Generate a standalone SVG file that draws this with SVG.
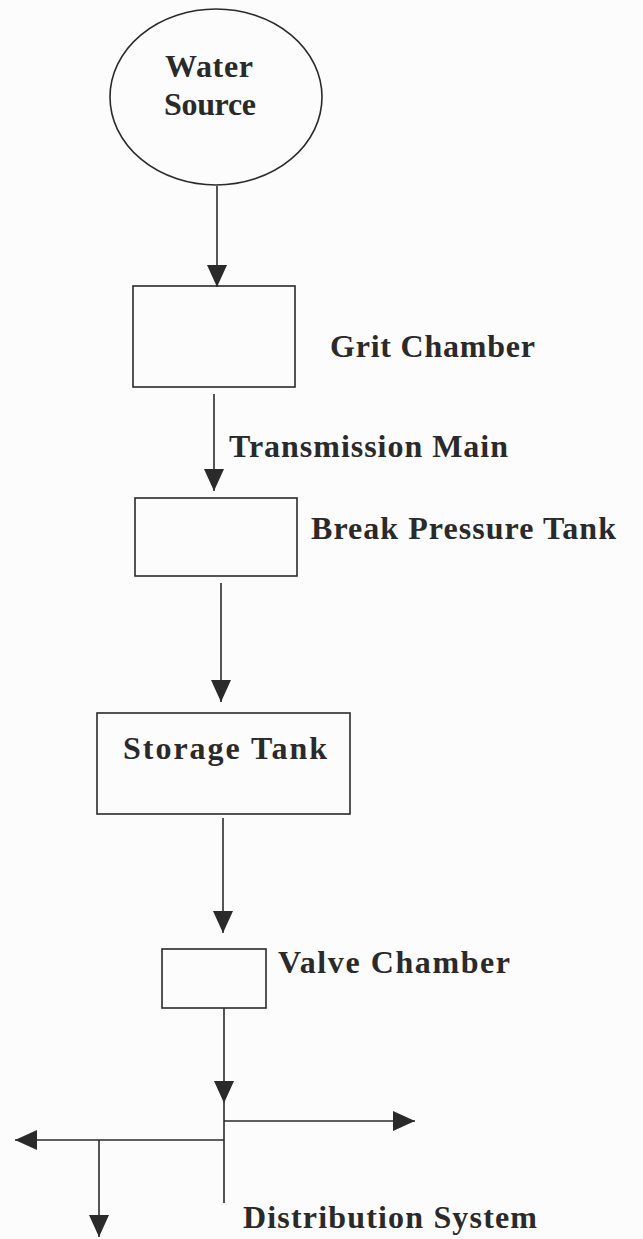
<svg xmlns="http://www.w3.org/2000/svg" width="643" height="1239" viewBox="0 0 643 1239">
<style>
.shape{fill:none;stroke:#2a2a2a;stroke-width:1.6}
.conn{fill:none;stroke:#2a2a2a;stroke-width:1.6}
.lbl{font-family:'Liberation Serif','Times New Roman','DejaVu Serif',serif;font-weight:700;font-size:32px;fill:#2a2a2a}
</style>
<defs>
<marker id="arr" viewBox="0 0 22 20" refX="22" refY="10" markerWidth="22" markerHeight="20" markerUnits="userSpaceOnUse" orient="auto">
<path d="M0,0 L22,10 L0,20 z" fill="#2a2a2a"/>
</marker>
</defs>
<rect width="643" height="1239" fill="#fcfcfc"/>
<g id="water-source">
<ellipse class="shape" cx="216" cy="97" rx="106" ry="88"/>
<text class="lbl" x="165" y="77" textLength="88" lengthAdjust="spacing">Water</text>
<text class="lbl" x="164" y="115" textLength="92" lengthAdjust="spacing">Source</text>
</g>
<g id="grit-chamber">
<rect class="shape" x="133" y="286" width="162" height="101"/>
<text class="lbl" x="330" y="357" textLength="205" lengthAdjust="spacing">Grit Chamber</text>
</g>
<g id="break-pressure-tank">
<rect class="shape" x="135" y="498" width="162" height="78"/>
<text class="lbl" x="311" y="539" textLength="305" lengthAdjust="spacing">Break Pressure Tank</text>
</g>
<g id="storage-tank">
<rect class="shape" x="97" y="713" width="253" height="101"/>
<text class="lbl" x="123" y="759" textLength="204" lengthAdjust="spacing">Storage Tank</text>
</g>
<g id="valve-chamber">
<rect class="shape" x="162" y="949" width="104" height="59"/>
<text class="lbl" x="278" y="973" textLength="232" lengthAdjust="spacing">Valve Chamber</text>
</g>
<g id="distribution-system">
<text class="lbl" x="243" y="1228" textLength="294" lengthAdjust="spacing">Distribution System</text>
</g>
<g id="connectors">
<path class="conn" d="M217,186 L217,287" marker-end="url(#arr)"/>
<path class="conn" d="M214,394 L214,491" marker-end="url(#arr)"/>
<text class="lbl" x="229" y="457" textLength="279" lengthAdjust="spacing">Transmission Main</text>
<path class="conn" d="M221,583 L221,702" marker-end="url(#arr)"/>
<path class="conn" d="M223,818 L223,933" marker-end="url(#arr)"/>
<path class="conn" d="M224,1008 L224,1103" marker-end="url(#arr)"/>
<path class="conn" d="M224,1103 L224,1203"/>
<path class="conn" d="M224,1121 L415,1121" marker-end="url(#arr)"/>
<path class="conn" d="M224,1140 L15,1140" marker-end="url(#arr)"/>
<path class="conn" d="M99,1140 L99,1237" marker-end="url(#arr)"/>
</g>
</svg>
